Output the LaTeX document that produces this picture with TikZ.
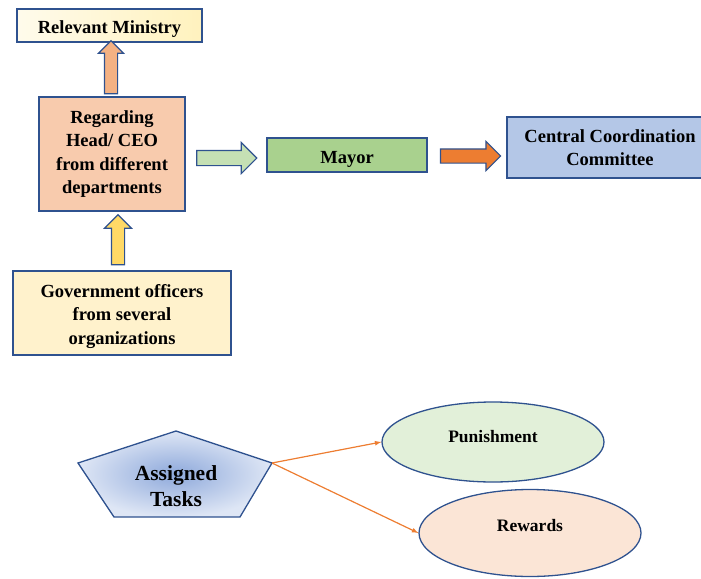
\documentclass[tikz,border=0pt]{standalone}
\usepackage{fontspec}
\setmainfont{Liberation Serif}[BoldFont={Liberation Serif Bold}]
\usetikzlibrary{shapes.arrows,shapes.geometric}

\definecolor{boxline}{RGB}{47,82,143}
\definecolor{ministry}{RGB}{255,242,190}
\definecolor{headbox}{RGB}{248,203,173}
\definecolor{officers}{RGB}{255,242,204}
\definecolor{mayorbox}{RGB}{169,209,142}
\definecolor{centralbox}{RGB}{180,199,231}
\definecolor{salmonarrow}{RGB}{244,177,131}
\definecolor{yellowarrow}{RGB}{255,217,102}
\definecolor{greenarrow}{RGB}{197,224,180}
\definecolor{orangearrow}{RGB}{237,125,49}
\definecolor{punishfill}{RGB}{226,240,217}
\definecolor{rewardfill}{RGB}{251,229,214}

\tikzset{
  box/.style={draw=boxline, line width=1.3pt, align=center, inner sep=0pt,
    font=\bfseries\fontsize{18.5}{23.5}\selectfont},
  oneline/.style={text height=16pt, text depth=0pt},
  blockarrow/.style={single arrow, draw=boxline, line width=1.1pt, inner sep=0pt,
    minimum width=0pt},
  oval/.style={ellipse, draw=boxline, line width=1.3pt, inner sep=0pt,
    minimum width=222pt},
  ovaltext/.style={font=\bfseries\fontsize{17.5}{21}\selectfont}
}

\begin{document}
\begin{tikzpicture}[x=1pt,y=-1pt]
  \useasboundingbox (0,0) rectangle (701,578);
  \clip (0,0) rectangle (701,578);

  % upper chart
  \node[box, oneline, left color=ministry!30, right color=ministry, minimum width=185pt,
    minimum height=33pt] (ministry) at (109.5,25.5) {Relevant Ministry};
  \node[box, fill=headbox, minimum width=146pt, minimum height=114pt]
    (head) at (112,154) {Regarding\\Head/ CEO\\from different\\departments};
  \node[box, fill=officers, minimum width=218pt, minimum height=84pt]
    (officers) at (122,313) {\rule{0pt}{20pt}Government officers\\from several\\organizations};
  \node[box, oneline, fill=mayorbox, minimum width=160pt, minimum height=34pt]
    (mayor) at (347,155) {Mayor};
  \node[box, fill=centralbox, minimum width=206pt, minimum height=61pt]
    (central) at (610,147.5) {Central Coordination\\Committee};

  \node[blockarrow, fill=salmonarrow, shape border rotate=90, minimum height=53pt,
    inner xsep=6pt, single arrow head extend=6pt] (toministry) at (111,70.5) {};
  \node[blockarrow, fill=yellowarrow, shape border rotate=90, minimum height=50pt,
    inner xsep=6pt, single arrow head extend=7pt] (tohead) at (118,243) {};
  \node[blockarrow, fill=greenarrow, minimum height=60pt,
    inner ysep=7pt, single arrow head extend=8pt] (tomayor) at (223,158) {};
  \node[blockarrow, fill=orangearrow, minimum height=60pt,
    inner ysep=6.5pt, single arrow head extend=7.5pt] (tocentral) at (467,156) {};

  % lower chart
  \coordinate (tasks-t) at (176,431);
  \coordinate (tasks-l) at (78,463);
  \coordinate (tasks-r) at (272,463);
  \coordinate (tasks-bl) at (114,517);
  \coordinate (tasks-br) at (240,517);
  \shade[draw=boxline, line width=1.3pt, inner color={rgb,255:red,142;green,169;blue,219},
    outer color={rgb,255:red,222;green,230;blue,245}]
    (tasks-t) -- (tasks-r) -- (tasks-br) -- (tasks-bl) -- (tasks-l) -- cycle;
  \node[align=center, font=\bfseries\fontsize{21.5}{26}\selectfont] (tasks)
    at (176,486) {Assigned\\Tasks};

  \node[oval, fill=punishfill, minimum height=80pt,
    label={[ovaltext, yshift=5pt]center:Punishment}] (punish) at (493,442) {};
  \node[oval, fill=rewardfill, minimum height=87pt,
    label={[ovaltext, yshift=7pt]center:Rewards}] (reward) at (530,533) {};

  \draw[orangearrow, line width=1.2pt, -latex] (tasks-r) -- (punish.west);
  \draw[orangearrow, line width=1.2pt, -latex] (tasks-r) -- (reward.west);
\end{tikzpicture}
\end{document}
